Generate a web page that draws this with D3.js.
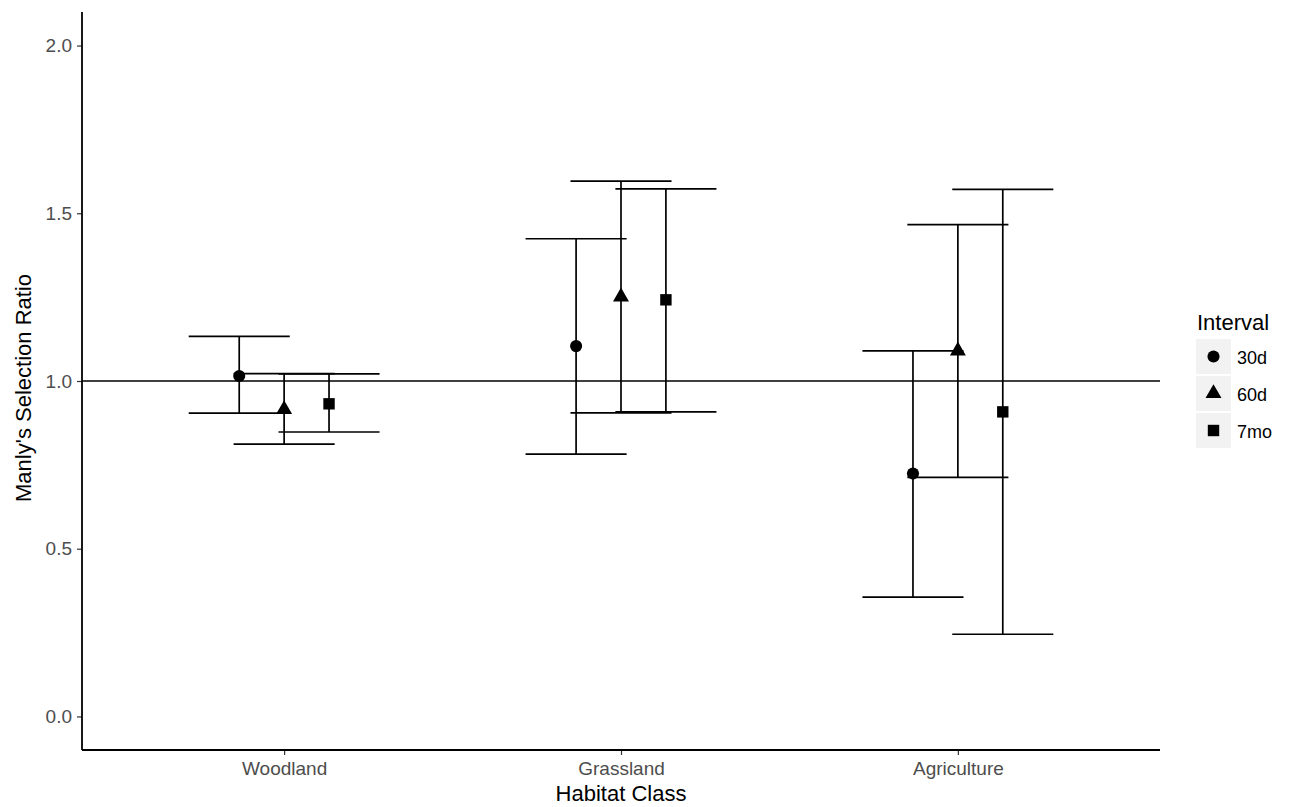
<!DOCTYPE html>
<html>
<head>
<meta charset="utf-8">
<script src="https://cdn.jsdelivr.net/npm/d3@7"></script>
<style>
  body { margin: 0; background: #fff; }
  svg text { font-family: "Liberation Sans", Arial, sans-serif; }
</style>
</head>
<body>
<div class="stage"></div>
<script>
// chart size
var width = 1292;
var height = 807;

// data
var habitats = ['Woodland', 'Grassland', 'Agriculture'];
var intervals = ['30d', '60d', '7mo'];
var ratio = [
  [1.015, 0.915, 0.932],
  [1.104, 1.251, 1.242],
  [0.724, 1.090, 0.908]
];
var lower = [
  [0.904, 0.812, 0.848],
  [0.782, 0.905, 0.908],
  [0.356, 0.713, 0.245]
];
var upper = [
  [1.133, 1.022, 1.021],
  [1.424, 1.596, 1.573],
  [1.090, 1.466, 1.571]
];
var yTicks = [0, 0.5, 1, 1.5, 2];

var rows = [];
habitats.forEach(function(h, i) {
  intervals.forEach(function(s, j) {
    rows.push({ habitat: h, interval: s, est: ratio[i][j], lo: lower[i][j], hi: upper[i][j] });
  });
});

var margin = { left: 82, right: 132, top: 12, bottom: 57 };

var svg = d3.select('.stage')
  .append('svg')
  .attr('width', width)
  .attr('height', height);

var x = d3.scalePoint()
  .domain(habitats)
  .range([margin.left, width - margin.right])
  .padding(0.6);

var step = x.step();
var dodge = d3.scalePoint()
  .domain(intervals)
  .range([-0.1333 * step, 0.1333 * step]);

var y = d3.scaleLinear()
  .domain([-0.1, 2.1])
  .range([height - margin.bottom, margin.top]);

// reference line at 1
svg.append('line')
  .attr('x1', margin.left).attr('x2', width - margin.right)
  .attr('y1', y(1)).attr('y2', y(1))
  .attr('stroke', '#000').attr('stroke-width', 1.7);

// error bars
var capHalf = 0.15 * step;
var bars = svg.selectAll('.bar')
  .data(rows)
  .enter()
  .append('g')
  .attr('class', 'bar')
  .attr('transform', function(d) { return 'translate(' + (x(d.habitat) + dodge(d.interval)) + ',0)'; });

bars.append('line')
  .attr('x1', 0).attr('x2', 0)
  .attr('y1', function(d) { return y(d.lo); })
  .attr('y2', function(d) { return y(d.hi); })
  .attr('stroke', '#000').attr('stroke-width', 1.7);

bars.append('line')
  .attr('x1', -capHalf).attr('x2', capHalf)
  .attr('y1', function(d) { return y(d.hi); })
  .attr('y2', function(d) { return y(d.hi); })
  .attr('stroke', '#000').attr('stroke-width', 1.7);

bars.append('line')
  .attr('x1', -capHalf).attr('x2', capHalf)
  .attr('y1', function(d) { return y(d.lo); })
  .attr('y2', function(d) { return y(d.lo); })
  .attr('stroke', '#000').attr('stroke-width', 1.7);

var shapes = { '30d': d3.symbolCircle, '60d': d3.symbolTriangle, '7mo': d3.symbolSquare };
var sizes = { '30d': 115, '60d': 110, '7mo': 130 };

bars.append('path')
  .attr('transform', function(d) { return 'translate(0,' + y(d.est) + ')'; })
  .attr('d', function(d) { return d3.symbol().type(shapes[d.interval]).size(sizes[d.interval])(); })
  .attr('fill', '#000');

// axes
var xAxis = svg.append('g')
  .attr('transform', 'translate(0,' + (height - margin.bottom) + ')')
  .call(d3.axisBottom(x).tickSize(5).tickPadding(7));
xAxis.select('.domain').remove();
xAxis.selectAll('line').attr('stroke', '#333').attr('stroke-width', 1.2);
xAxis.selectAll('text').attr('fill', '#4d4d4d').style('font-size', '19px');

var yAxis = svg.append('g')
  .attr('transform', 'translate(' + margin.left + ',0)')
  .call(d3.axisLeft(y).tickValues(yTicks).tickFormat(d3.format('.1f')).tickSize(5).tickPadding(5));
yAxis.select('.domain').remove();
yAxis.selectAll('line').attr('stroke', '#333').attr('stroke-width', 1.2);
yAxis.selectAll('text').attr('fill', '#4d4d4d').style('font-size', '19px');

svg.append('line')
  .attr('x1', margin.left).attr('x2', width - margin.right)
  .attr('y1', height - margin.bottom).attr('y2', height - margin.bottom)
  .attr('stroke', '#000').attr('stroke-width', 1.8);
svg.append('line')
  .attr('x1', margin.left).attr('x2', margin.left)
  .attr('y1', margin.top).attr('y2', height - margin.bottom)
  .attr('stroke', '#000').attr('stroke-width', 1.8);

// axis titles
svg.append('text')
  .attr('x', (margin.left + width - margin.right) / 2)
  .attr('y', 801)
  .attr('text-anchor', 'middle')
  .style('font-size', '22px')
  .text('Habitat Class');

svg.append('text')
  .attr('transform', 'translate(31,388) rotate(-90)')
  .attr('text-anchor', 'middle')
  .style('font-size', '22px')
  .text("Manly's Selection Ratio");

// legend
var legend = svg.append('g').attr('transform', 'translate(1196,0)');
legend.append('text')
  .attr('x', 1).attr('y', 330)
  .style('font-size', '22px')
  .text('Interval');

var keys = legend.selectAll('.key')
  .data(intervals)
  .enter()
  .append('g')
  .attr('class', 'key')
  .attr('transform', function(d, i) { return 'translate(0,' + (339 + i * 37) + ')'; });

keys.append('rect')
  .attr('width', 35).attr('height', 35)
  .attr('fill', '#f2f2f2');

keys.append('path')
  .attr('transform', 'translate(17.5,17.5)')
  .attr('d', function(d) { return d3.symbol().type(shapes[d]).size(sizes[d])(); })
  .attr('fill', '#000');

keys.append('text')
  .attr('x', 41).attr('y', 25)
  .style('font-size', '18px')
  .text(function(d) { return d; });
</script>
</body>
</html>
